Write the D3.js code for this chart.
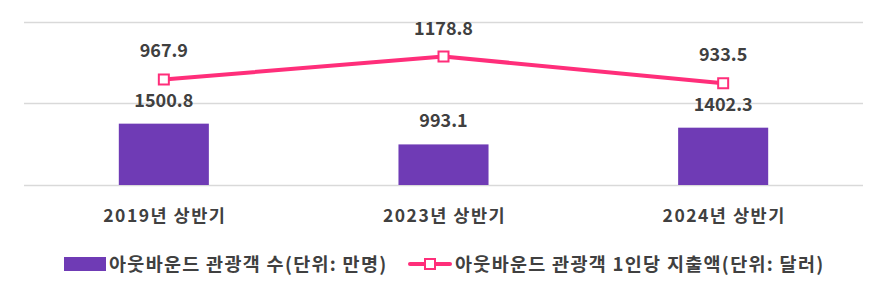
<!DOCTYPE html>
<html>
<head>
<meta charset="utf-8">
<script src="https://cdn.jsdelivr.net/npm/d3@7"></script>
<style>
  html, body { margin: 0; padding: 0; background: #fff; }
  svg { display: block; }
  text { font-family: "Noto Sans CJK KR", "Noto Sans", sans-serif; font-weight: 700; fill: #404040; }
</style>
</head>
<body>
<svg id="chart" width="886" height="295"></svg>
<script>
// Outbound tourism, first half of each year
const categories = ["2019년 상반기", "2023년 상반기", "2024년 상반기"];
const visitors = [1500.8, 993.1, 1402.3];      // 아웃바운드 관광객 수 (만명)
const spending = [967.9, 1178.8, 933.5];       // 1인당 지출액 (달러)
const visitorTicks = [0, 2000, 4000];
const seriesNames = ["아웃바운드 관광객 수(단위: 만명)", "아웃바운드 관광객 1인당 지출액(단위: 달러)"];

const barColor = "#6f3bb5";
const lineColor = "#ff2e7a";

const svg = d3.select("#chart");
const plot = { left: 24, right: 863, top: 21.5, bottom: 185 };

const x = d3.scaleBand().domain(categories).range([plot.left, plot.right]).paddingInner(0).paddingOuter(0);
const yBar = d3.scaleLinear().domain([0, 4000]).range([plot.bottom, plot.top]);
const yLine = d3.scaleLinear().domain([0, 1500]).range([plot.bottom, plot.top]);

// horizontal gridlines
svg.append("g").selectAll("line").data(visitorTicks).join("line")
  .attr("x1", plot.left).attr("x2", plot.right)
  .attr("y1", d => Math.round(yBar(d)) + 0.5).attr("y2", d => Math.round(yBar(d)) + 0.5)
  .attr("stroke", "#d9d9d9").attr("stroke-width", 1.5);

// bars
const barW = x.bandwidth() * 0.322;
svg.append("g").selectAll("rect").data(visitors).join("rect")
  .attr("x", (d, i) => x(categories[i]) + x.bandwidth() / 2 - barW / 2)
  .attr("width", barW)
  .attr("y", d => yBar(d))
  .attr("height", d => yBar(0) - yBar(d))
  .attr("fill", barColor);

// bar value labels
svg.append("g").selectAll("text").data(visitors).join("text")
  .attr("x", (d, i) => x(categories[i]) + x.bandwidth() / 2)
  .attr("y", d => yBar(d) - 17)
  .attr("text-anchor", "middle")
  .attr("font-size", 18)
  .text(d => d.toFixed(1));

// spending line
const cx = (d, i) => x(categories[i]) + x.bandwidth() / 2;
svg.append("path")
  .datum(spending)
  .attr("fill", "none")
  .attr("stroke", lineColor)
  .attr("stroke-width", 4)
  .attr("stroke-linejoin", "round")
  .attr("d", d3.line().x(cx).y(d => yLine(d)));

svg.append("g").selectAll("rect").data(spending).join("rect")
  .attr("x", (d, i) => cx(d, i) - 5)
  .attr("y", d => yLine(d) - 5)
  .attr("width", 10).attr("height", 10)
  .attr("fill", "#fff").attr("stroke", lineColor).attr("stroke-width", 2);

svg.append("g").selectAll("text").data(spending).join("text")
  .attr("x", cx)
  .attr("y", d => yLine(d) - 22)
  .attr("text-anchor", "middle")
  .attr("font-size", 18)
  .text(d => d.toFixed(1));

// category axis labels
svg.append("g").selectAll("text").data(categories).join("text")
  .attr("x", d => x(d) + x.bandwidth() / 2 + 1)
  .attr("y", 222)
  .attr("text-anchor", "middle")
  .attr("font-size", 17.5)
  .attr("letter-spacing", 1.5)
  .text(d => d);

// legend
const lg = svg.append("g");
lg.append("rect").attr("x", 64).attr("y", 257).attr("width", 42).attr("height", 14).attr("fill", barColor);
lg.append("text").attr("x", 109).attr("y", 271).attr("font-size", 18.5).attr("letter-spacing", 1.3).text(seriesNames[0]);
lg.append("line").attr("x1", 410).attr("x2", 450).attr("y1", 264).attr("y2", 264)
  .attr("stroke", lineColor).attr("stroke-width", 4).attr("stroke-linecap", "round");
lg.append("rect").attr("x", 425).attr("y", 259).attr("width", 10).attr("height", 10)
  .attr("fill", "#fff").attr("stroke", lineColor).attr("stroke-width", 2);
lg.append("text").attr("x", 455).attr("y", 271).attr("font-size", 18.5).attr("letter-spacing", 1.3).text(seriesNames[1]);
</script>
</body>
</html>
